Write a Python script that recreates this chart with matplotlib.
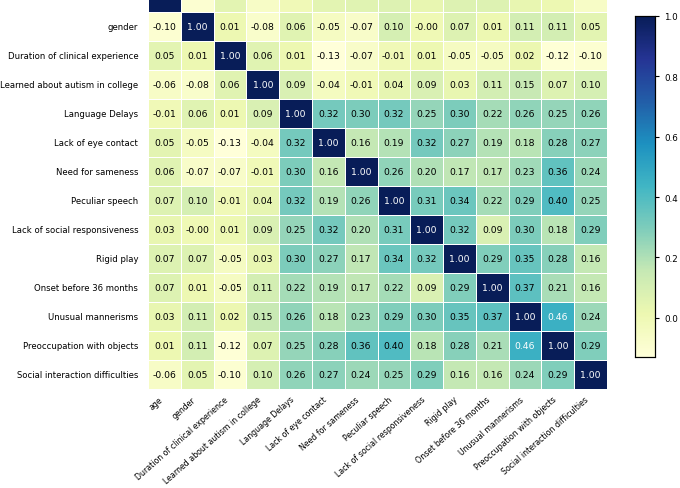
import numpy as np
import matplotlib
matplotlib.use("Agg")
import matplotlib.pyplot as plt
import seaborn as sns

labels = ["age", "gender", "Duration of clinical experience", "Learned about autism in college",
          "Language Delays", "Lack of eye contact", "Need for sameness", "Peculiar speech",
          "Lack of social responsiveness", "Rigid play", "Onset before 36 months",
          "Unusual mannerisms", "Preoccupation with objects", "Social interaction difficulties"]

row_age = [1.00, -0.10, 0.05, -0.06, -0.01, 0.05, 0.06, 0.07, 0.03, 0.07, 0.07, 0.03, 0.01, -0.06]
row_gender = [-0.10, 1.00, 0.01, -0.08, 0.06, -0.05, -0.07, 0.10, -0.00, 0.07, 0.01, 0.11, 0.11, 0.05]
row_duration = [0.05, 0.01, 1.00, 0.06, 0.01, -0.13, -0.07, -0.01, 0.01, -0.05, -0.05, 0.02, -0.12, -0.10]
row_learned = [-0.06, -0.08, 0.06, 1.00, 0.09, -0.04, -0.01, 0.04, 0.09, 0.03, 0.11, 0.15, 0.07, 0.10]
row_language = [-0.01, 0.06, 0.01, 0.09, 1.00, 0.32, 0.30, 0.32, 0.25, 0.30, 0.22, 0.26, 0.25, 0.26]
row_eye = [0.05, -0.05, -0.13, -0.04, 0.32, 1.00, 0.16, 0.19, 0.32, 0.27, 0.19, 0.18, 0.28, 0.27]
row_sameness = [0.06, -0.07, -0.07, -0.01, 0.30, 0.16, 1.00, 0.26, 0.20, 0.17, 0.17, 0.23, 0.36, 0.24]
row_speech = [0.07, 0.10, -0.01, 0.04, 0.32, 0.19, 0.26, 1.00, 0.31, 0.34, 0.22, 0.29, 0.40, 0.25]
row_social_resp = [0.03, -0.00, 0.01, 0.09, 0.25, 0.32, 0.20, 0.31, 1.00, 0.32, 0.09, 0.30, 0.18, 0.29]
row_rigid = [0.07, 0.07, -0.05, 0.03, 0.30, 0.27, 0.17, 0.34, 0.32, 1.00, 0.29, 0.35, 0.28, 0.16]
row_onset = [0.07, 0.01, -0.05, 0.11, 0.22, 0.19, 0.17, 0.22, 0.09, 0.29, 1.00, 0.37, 0.21, 0.16]
row_unusual = [0.03, 0.11, 0.02, 0.15, 0.26, 0.18, 0.23, 0.29, 0.30, 0.35, 0.37, 1.00, 0.46, 0.24]
row_preocc = [0.01, 0.11, -0.12, 0.07, 0.25, 0.28, 0.36, 0.40, 0.18, 0.28, 0.21, 0.46, 1.00, 0.29]
row_social_int = [-0.06, 0.05, -0.10, 0.10, 0.26, 0.27, 0.24, 0.25, 0.29, 0.16, 0.16, 0.24, 0.29, 1.00]

matrix = np.array([row_age, row_gender, row_duration, row_learned, row_language, row_eye,
                   row_sameness, row_speech, row_social_resp, row_rigid, row_onset,
                   row_unusual, row_preocc, row_social_int])

cbar_ticks = [0.0, 0.2, 0.4, 0.6, 0.8, 1.0]

fig = plt.figure(figsize=(6.8, 4.89), dpi=100)
ax = fig.add_axes([148/680, (489-390)/489, (607-148)/680, (390+16)/489])
cax = fig.add_axes([635/680, (489-358)/489, 20/680, (358-17)/489])

sns.heatmap(matrix, ax=ax, cbar_ax=cax, cmap="YlGnBu", annot=True, fmt=".2f",
            annot_kws={"size": 6.7, "color": "black"}, linewidths=0.6, linecolor="white",
            xticklabels=labels, yticklabels=labels)

n = len(labels)
for i, t in enumerate(ax.texts):
    r = i // n
    if r == 0:
        # the top (age) row is cropped off in the reference
        t.set_visible(False)
        continue
    v = float(t.get_text())
    t.set_color("white" if v > 0.42 else "black")

ax.tick_params(axis="y", length=0, labelsize=6.1, pad=7)
ax.tick_params(axis="x", length=0, labelsize=5.7, pad=4)
ax.set_xticklabels(labels, rotation=41.5, ha="right", rotation_mode="default")
ylabs = ax.set_yticklabels(labels, rotation=0)
ylabs[0].set_visible(False)

cax.set_yticks(cbar_ticks)
cax.tick_params(labelsize=6.3, length=3, width=0.8)
for s in cax.spines.values():
    s.set_visible(True)
    s.set_linewidth(0.8)
    s.set_edgecolor("black")

fig.savefig("out.png", dpi=100)
